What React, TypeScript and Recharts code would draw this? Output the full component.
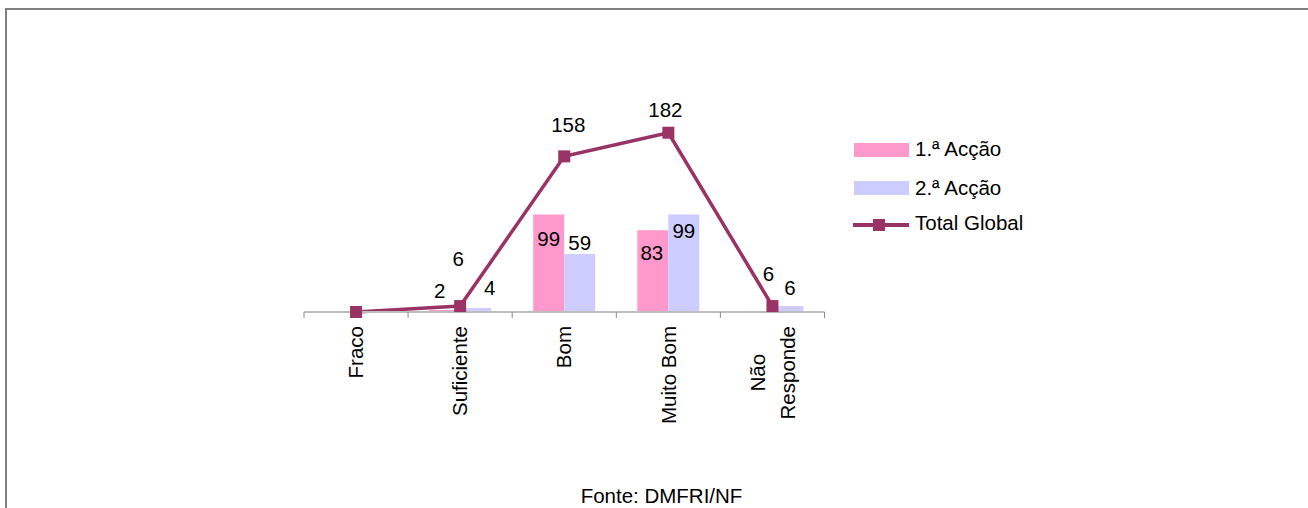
import React from 'react';
import { ComposedChart, Bar, Line, XAxis, YAxis, LabelList, Legend, Customized } from 'recharts';

// ---- data ----
const categories = ['Fraco', 'Suficiente', 'Bom', 'Muito Bom', 'Não Responde'];
const tickLabelLines = [['Fraco'], ['Suficiente'], ['Bom'], ['Muito Bom'], ['Não', 'Responde']];
const accao1 = [0, 2, 99, 83, 0];
const accao2 = [0, 4, 59, 99, 6];
const totalGlobal = [0, 6, 158, 182, 6];
const seriesNames = ['1.ª Acção', '2.ª Acção', 'Total Global'];
const sourceNote = 'Fonte: DMFRI/NF';

// label nudges (style: how far each data label sits from its mark)
const pinkNudge = [[0, 0], [-5, -19], [0, 24], [-1, 23], [0, 0]];
const blueNudge = [[0, 0], [14, -20], [0, -11], [0, 16], [2, -18]];
const totalNudge = [[0, 0], [-2, -47], [4, -32], [-3, -23], [-4, -32]];

const data = categories.map((name, i) => ({
  name,
  a1: accao1[i],
  a2: accao2[i],
  total: totalGlobal[i],
}));

const FONT = '"Liberation Sans", Arial, Helvetica, sans-serif';
const FS = 20.5;
const PINK = '#FF99CC';
const BLUE = '#CCCCFF';
const LINE = '#993366';

let ctx: any = null;
function measure(t: string): number {
  try {
    if (!ctx) ctx = document.createElement('canvas').getContext('2d');
    ctx.font = `${FS}px ${FONT}`;
    return ctx.measureText(t).width;
  } catch (e) {
    return t.length * FS * 0.55;
  }
}

function CategoryTick(props: any) {
  const { x, y, payload, index, width, visibleTicksCount } = props;
  const half = payload && typeof payload.offset === 'number' && payload.offset > 0
    ? payload.offset
    : (width || 520) / (visibleTicksCount || 5) / 2;
  const lines = tickLabelLines[index] || [String(payload.value)];
  const maxW = Math.max(...lines.map(measure));
  const cy = y + maxW / 2;
  const n = lines.length;
  const gap = 30;
  const last = index === (visibleTicksCount || categories.length) - 1;
  return (
    <g>
      <line x1={x - half} x2={x - half} y1={y - 14} y2={y - 8} stroke="#8c8c8c" strokeWidth={1} />
      {last && <line x1={x + half} x2={x + half} y1={y - 14} y2={y - 8} stroke="#8c8c8c" strokeWidth={1} />}
      {lines.map((ln: string, i: number) => {
        const tx = x + (i - (n - 1) / 2) * gap;
        return (
          <text
            key={i}
            x={tx}
            y={cy}
            dy="0.35em"
            textAnchor="middle"
            transform={`rotate(-90 ${tx} ${cy})`}
            fontFamily={FONT}
            fontSize={FS}
            fill="#000"
          >
            {ln}
          </text>
        );
      })}
    </g>
  );
}

function makeLabel(nudges: number[][], isBar: boolean, series: number[]) {
  return (props: any) => {
    const vb = props.viewBox || {};
    const x = vb.x ?? props.x;
    const y = vb.y ?? props.y;
    const w = vb.width ?? props.width ?? 0;
    const { value } = props;
    if (!value || x == null || y == null) return null;
    let idx = -1;
    if (props.payload && typeof props.payload.name === 'string') idx = categories.indexOf(props.payload.name);
    if (idx < 0 && isBar) idx = series.indexOf(Number(value));
    if (idx < 0) idx = props.index;
    const cx = isBar ? x + w / 2 : x;
    const [dx, dy] = nudges[idx] || [0, 0];
    return (
      <text
        x={cx + dx}
        y={y + dy}
        dy="0.35em"
        textAnchor="middle"
        fontFamily={FONT}
        fontSize={FS}
        fill="#000"
      >
        {value}
      </text>
    );
  };
}

function SquareDot(props: any) {
  const { cx, cy } = props;
  if (cx == null || cy == null) return null;
  return <rect x={cx - 6} y={cy - 6} width={12} height={12} fill={LINE} />;
}

function LegendContent() {
  return (
    <svg width={220} height={100} style={{ display: 'block', overflow: 'visible' }}>
      <rect x={4} y={5} width={55} height={14} fill={PINK} />
      <text x={65} y={11} dy="0.35em" fontFamily={FONT} fontSize={FS} fill="#000">{seriesNames[0]}</text>
      <rect x={4} y={43} width={55} height={14} fill={BLUE} />
      <text x={65} y={49.5} dy="0.35em" fontFamily={FONT} fontSize={FS} fill="#000">{seriesNames[1]}</text>
      <line x1={3} x2={59} y1={87} y2={87} stroke={LINE} strokeWidth={4} />
      <rect x={23} y={81} width={12} height={12} fill={LINE} />
      <text x={65} y={85} dy="0.35em" fontFamily={FONT} fontSize={FS} fill="#000">{seriesNames[2]}</text>
    </svg>
  );
}

function SourceNote() {
  return (
    <text x={661.5} y={503} textAnchor="middle" fontFamily={FONT} fontSize={FS} fill="#000">
      {sourceNote}
    </text>
  );
}

export default function App() {
  return (
    <div style={{ position: 'fixed', left: 0, top: 0, right: 0, bottom: 0, overflow: 'hidden', background: '#fff' }}>
      <div
        style={{
          position: 'absolute',
          left: 5,
          top: 8,
          width: 1330,
          height: 540,
          border: '2px solid #808080',
          boxSizing: 'border-box',
        }}
      />
      <div style={{ position: 'absolute', left: 0, top: 0 }}>
        <ComposedChart
          width={1308}
          height={508}
          data={data}
          margin={{ top: 115, right: 483.5, bottom: 76, left: 304 }}
          barGap={0}
        >
          <XAxis
            dataKey="name"
            type="category"
            height={120}
            interval={0}
            axisLine={{ stroke: '#bdbdbd', strokeWidth: 2 }}
            tickLine={false}
            tickSize={6}
            tickMargin={8}
            tick={<CategoryTick />}
          />
          <YAxis type="number" domain={[0, 200]} hide />
          <Legend
            layout="horizontal"
            verticalAlign="middle"
            align="center"
            wrapperStyle={{ position: 'absolute', left: 850, top: 138, width: 220, height: 100 }}
            content={<LegendContent />}
          />
          <Bar dataKey="a1" name={seriesNames[0]} fill={PINK} barSize={31} isAnimationActive={false}>
            <LabelList dataKey="a1" content={makeLabel(pinkNudge, true, accao1)} />
          </Bar>
          <Bar dataKey="a2" name={seriesNames[1]} fill={BLUE} barSize={31} isAnimationActive={false}>
            <LabelList dataKey="a2" content={makeLabel(blueNudge, true, accao2)} />
          </Bar>
          <Line
            dataKey="total"
            name={seriesNames[2]}
            stroke={LINE}
            strokeWidth={3.5}
            dot={<SquareDot />}
            activeDot={false}
            isAnimationActive={false}
          >
            <LabelList dataKey="total" content={makeLabel(totalNudge, false, totalGlobal)} />
          </Line>
          <Customized component={SourceNote} />
        </ComposedChart>
      </div>
    </div>
  );
}
